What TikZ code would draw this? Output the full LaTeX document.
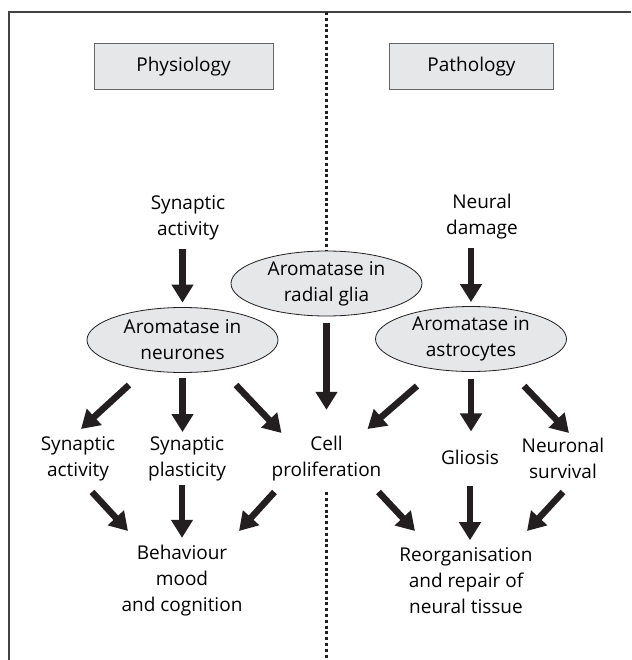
\documentclass[tikz,border=0pt]{standalone}
\usepackage{fontspec}
\setmainfont{Open Sans}
\usetikzlibrary{shapes.geometric}
\usetikzlibrary{arrows.meta}
\usetikzlibrary{calc}
\definecolor{boxgray}{HTML}{E6E7E8}
\definecolor{ink}{HTML}{231F20}
\def\fsize{\fontsize{19}{26}\selectfont}
\tikzset{
  term/.style = {font = \fsize, align = center, inner sep = 0pt},
  head box/.style = {term, draw = black!60, fill = boxgray, line width = 1pt,
    minimum width = #1, minimum height = 46pt},
  site/.style = {term, ellipse, draw = ink, fill = boxgray, line width = 0.8pt,
    minimum width = 191pt, minimum height = 65pt},
  flow/.style = {draw = ink, line width = 6.5pt,
    -{Triangle[width = 21pt, length = 18pt]}},
  divider/.style = {ink, line width = 3.2pt, dash pattern = on 3pt off 2.8pt},
}

\begin{document}
\begin{tikzpicture} [x = 1 pt, y = - 1 pt]
    \useasboundingbox (0, 0) rectangle (631, 660);
    \coordinate (dtop) at (326.5, 12);
    \coordinate (dbot) at (326.5, 660);

    \draw[ink!85, line width = 1.4pt] (631, 12) -- (9, 12) -- (9, 660);

    \node[head box = 179pt] (phys) at (183.5, 67) {Physiology};
    \node[head box = 164pt] (path) at (471.5, 67) {Pathology};

    \node[term] (synact) at (188, 217.5) {Synaptic\\activity};
    \node[term] (damage) at (482, 217) {Neural\\damage};
    \node[site] (glia) at (326.5, 283.5) {Aromatase in\\radial glia};
    \node[site] (neur) at (182.5, 340) {Aromatase in\\neurones};
    \node[site] (astro) at (471, 339) {Aromatase in\\astrocytes};

    \node[term] (synout) at (78, 458.5) {Synaptic\\activity};
    \node[term] (plast) at (187, 458.5) {Synaptic\\plasticity};
    \node[term] (prolif) at (326.5, 458.5) {Cell\\proliferation};
    \node[term] (gliosis) at (470, 457) {Gliosis};
    \node[term] (surv) at (563, 458) {Neuronal\\survival};

    \node[term] (behav) at (182, 580.5) {Behaviour\\mood\\and cognition};
    \node[term] (repair) at (466, 580.5)
      {Reorganisation\\and repair of\\neural tissue};

    \draw[divider] (dtop) -- (glia.north);
    \draw[divider] ($(prolif.south) + (0, 11)$) -- (dbot);

    \draw[flow, shorten <= 9.5pt, shorten >= 4.5pt]
      (synact.south -| neur.north) -- (neur.north);
    \draw[flow, shorten <= 8.5pt, shorten >= 4pt]
      (damage.south -| astro.north) -- (astro.north);
    \draw[flow, shorten <= 7pt, shorten >= 26pt]
      (glia.south) -- (glia.south |- prolif.north);

    \draw[flow] ($(neur) + (-53.5, 45)$) -- ($(synout) + (3, -29.5)$);
    \draw[flow, shorten <= 5.5pt, shorten >= 4pt]
      (neur.south) -- (neur.south |- plast.north);
    \draw[flow] ($(neur) + (53.5, 45)$) -- ($(prolif) + (-45, -25.5)$);

    \draw[flow] ($(astro) + (-54, 47)$) -- ($(prolif) + (41, -29.5)$);
    \draw[flow, shorten <= 7pt, shorten >= 18pt]
      (astro.south) -- (astro.south |- gliosis.north);
    \draw[flow] ($(astro) + (53, 47)$) -- ($(surv) + (6, -25)$);

    \draw[flow] ($(synout) + (14, 33.5)$) -- ($(behav) + (-54, -49.5)$);
    \draw[flow, shorten <= 4pt, shorten >= 7pt]
      (behav.north |- plast.south) -- (behav.north);
    \draw[flow] ($(prolif) + (-52, 33.5)$) -- ($(behav) + (57, -49.5)$);

    \draw[flow] ($(prolif) + (52, 33.5)$) -- ($(repair) + (-51, -49.5)$);
    \draw[flow, shorten <= 21pt, shorten >= 7pt]
      (gliosis.south) -- (gliosis.south |- repair.north);
    \draw[flow] ($(surv) + (0, 34)$) -- ($(repair) + (61, -49.5)$);
  \end{tikzpicture}
\end{document}
